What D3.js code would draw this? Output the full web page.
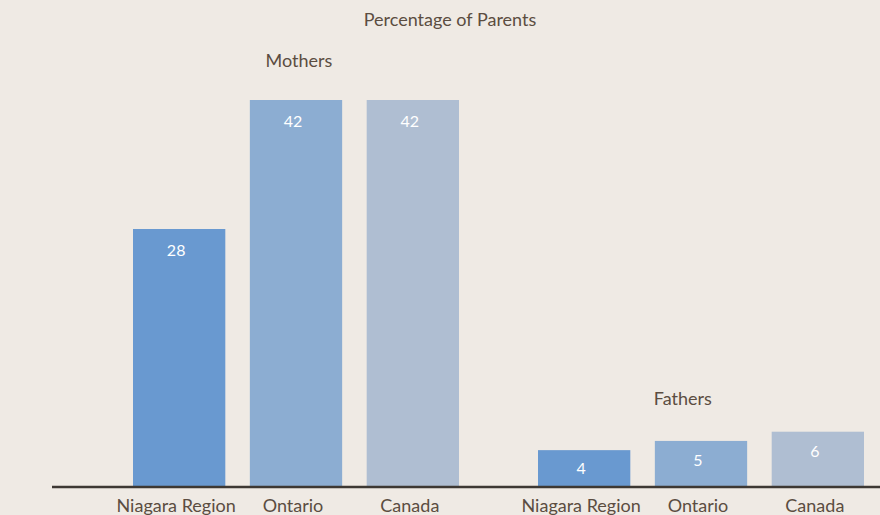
<!DOCTYPE html>
<html>

<head>
  <title>Percentage of Parents</title>
  <style>
    body { margin: 0; background: #efeae4; }
    svg { display: block; font-family: Lato, "Open Sans", sans-serif; }
  </style>
</head>

<body>
  <svg id="svg"></svg>

  <script src="https://d3js.org/d3.v7.min.js"></script>

  <script>
    // data
    let groups = ["Mothers", "Fathers"];
    let regions = ["Niagara Region", "Ontario", "Canada"];
    let mothers = [28, 42, 42];
    let fathers = [4, 5, 6];
    let title = "Percentage of Parents";

    let width = 880, height = 515;
    let baseline = 487;
    let textColor = "#5b4d41";
    let colors = ["#6999d0", "#8cadd2", "#afbed2"];

    let svg = d3.select("#svg")
      .attr("width", width)
      .attr("height", height);

    svg.append("rect")
      .attr("width", width)
      .attr("height", height)
      .attr("fill", "#efeae4");

    let seriesByGroup = { Mothers: mothers, Fathers: fathers };

    let xGroup = d3.scaleBand()
      .domain(groups)
      .range([133, 864])
      .paddingInner(79 / 405);

    let xRegion = d3.scaleBand()
      .domain(regions)
      .range([0, xGroup.bandwidth()])
      .paddingInner(0.21);

    let yScale = d3.scaleLinear()
      .domain([0, 42])
      .range([baseline, 100]);

    let colorScale = d3.scaleOrdinal().domain(regions).range(colors);

    // title
    svg.append("text")
      .attr("x", 450)
      .attr("y", 26)
      .attr("text-anchor", "middle")
      .attr("font-size", 18)
      .attr("fill", textColor)
      .text(title);

    groups.forEach(g => {
      let values = seriesByGroup[g];
      let data = regions.map((r, i) => ({ region: r, value: values[i] }));
      let gEl = svg.append("g")
        .attr("transform", `translate(${xGroup(g)}, 0)`);

      gEl.selectAll("rect")
        .data(data)
        .join("rect")
        .attr("x", d => xRegion(d.region))
        .attr("y", d => yScale(d.value))
        .attr("width", xRegion.bandwidth())
        .attr("height", d => baseline - yScale(d.value))
        .attr("fill", d => colorScale(d.region));

      gEl.selectAll("text.value")
        .data(data)
        .join("text")
        .attr("class", "value")
        .attr("x", d => xRegion(d.region) + xRegion.bandwidth() / 2 - 3)
        .attr("y", d => yScale(d.value) + Math.min(27, 20 + (baseline - yScale(d.value)) * 0.1))
        .attr("text-anchor", "middle")
        .attr("font-size", 16)
        .attr("fill", "#ffffff")
        .text(d => d.value);

      // category labels under the axis
      gEl.selectAll("text.cat")
        .data(data)
        .join("text")
        .attr("class", "cat")
        .attr("x", d => xRegion(d.region) + xRegion.bandwidth() / 2 - 3)
        .attr("y", 512)
        .attr("text-anchor", "middle")
        .attr("font-size", 18)
        .attr("fill", textColor)
        .text(d => d.region);

      // group label above the tallest bar
      let top = yScale(d3.max(values));
      gEl.append("text")
        .attr("x", g === "Mothers" ? xRegion("Ontario") + xRegion.bandwidth() / 2 + 3 : xRegion("Ontario") + 28)
        .attr("y", top - (g === "Mothers" ? 33 : 27))
        .attr("text-anchor", "middle")
        .attr("font-size", 18)
        .attr("fill", textColor)
        .text(g);
    });

    // baseline
    svg.append("line")
      .attr("x1", 52)
      .attr("x2", width)
      .attr("y1", baseline)
      .attr("y2", baseline)
      .attr("stroke", "#3d3833")
      .attr("stroke-width", 2.5);
  </script>
</body>

</html>
